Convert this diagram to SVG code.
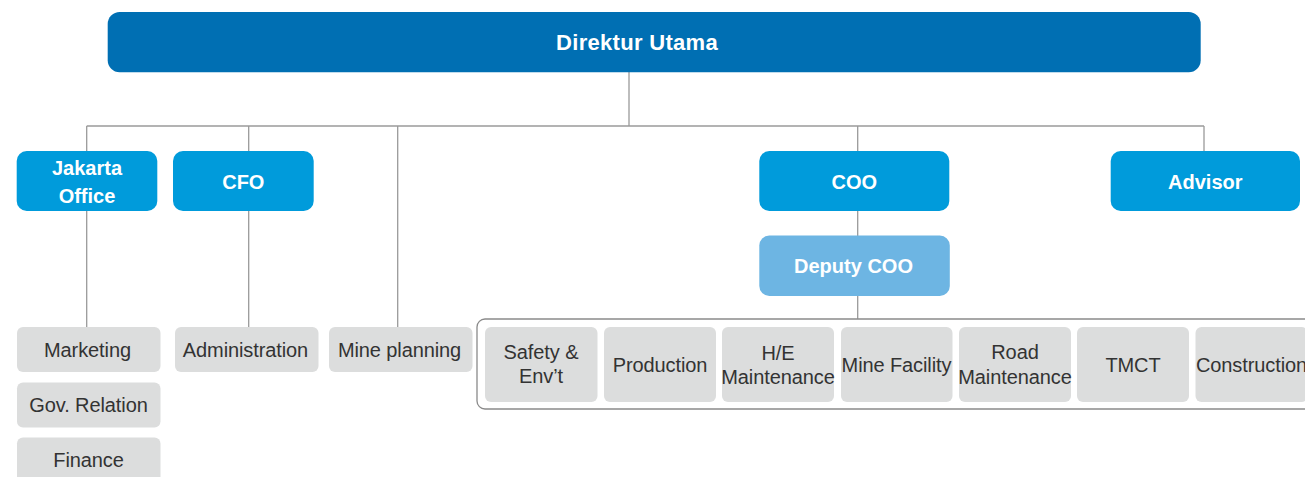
<svg xmlns="http://www.w3.org/2000/svg" width="1305" height="477" viewBox="0 0 1305 477">
<style>
.ln{stroke:#9a9a9a;stroke-width:1.3;fill:none}
.top{fill:#006fb3}
.blue{fill:#009bdb}
.dep{fill:#6db5e3}
.gray{fill:#dcdddd}
.grp{fill:none;stroke:#8a8a8a;stroke-width:1.3}
.tw{font-family:"Liberation Sans",Arial,sans-serif;font-weight:bold;font-size:20px;fill:#fff;text-anchor:middle}
.tt{font-family:"Liberation Sans",Arial,sans-serif;font-weight:bold;font-size:22px;fill:#fff;text-anchor:middle;letter-spacing:0.3px}
.tg{font-family:"Liberation Sans",Arial,sans-serif;font-size:20px;fill:#333;text-anchor:middle;letter-spacing:-0.1px}
</style>
<rect width="1305" height="477" fill="#fff"/>
<g id="connectors">
<path class="ln" d="M629 72V126M86.7 126H1204M86.7 126V327M248.7 126V327M397.7 126V327M857.7 126V151M857.7 211V236M857.7 296V319M1204 126V151"/>
</g>
<g id="group-box"><rect class="grp" x="477" y="319" width="850" height="90" rx="8"/></g>
<g id="direktur"><rect class="top" x="107.7" y="12" width="1093" height="60.3" rx="12"/><text class="tt" x="637" y="50">Direktur Utama</text></g>
<g id="jakarta"><rect class="blue" x="16.7" y="151" width="140.6" height="60" rx="10"/><text class="tw" x="87" y="175">Jakarta</text><text class="tw" x="87" y="203">Office</text></g>
<g id="cfo"><rect class="blue" x="173" y="151" width="140.7" height="60" rx="10"/><text class="tw" x="243.3" y="188.5">CFO</text></g>
<g id="coo"><rect class="blue" x="759.3" y="151" width="190" height="60" rx="10"/><text class="tw" x="854.3" y="188.5">COO</text></g>
<g id="advisor"><rect class="blue" x="1110.7" y="151" width="189.3" height="60" rx="10"/><text class="tw" x="1205.3" y="188.5">Advisor</text></g>
<g id="deputy"><rect class="dep" x="759.3" y="235.5" width="190.5" height="60.5" rx="10"/><text class="tw" x="853.5" y="273">Deputy COO</text></g>
<g id="marketing"><rect class="gray" x="17" y="327" width="143.5" height="45" rx="6"/><text class="tg" x="87.5" y="357">Marketing</text></g>
<g id="gov"><rect class="gray" x="17" y="382.5" width="143.5" height="45" rx="6"/><text class="tg" x="88.5" y="412">Gov. Relation</text></g>
<g id="finance"><rect class="gray" x="17" y="437.5" width="143.5" height="50" rx="6"/><text class="tg" x="88.5" y="467">Finance</text></g>
<g id="administration"><rect class="gray" x="175" y="327" width="143.5" height="45" rx="6"/><text class="tg" x="245.5" y="357">Administration</text></g>
<g id="mineplanning"><rect class="gray" x="329" y="327" width="143.5" height="45" rx="6"/><text class="tg" x="399.5" y="357">Mine planning</text></g>
<g id="safety"><rect class="gray" x="485" y="327" width="112.5" height="75" rx="6"/><text class="tg" x="541" y="359">Safety &amp;</text><text class="tg" x="541" y="383">Env’t</text></g>
<g id="production"><rect class="gray" x="604" y="327" width="112" height="75" rx="6"/><text class="tg" x="660" y="372">Production</text></g>
<g id="he"><rect class="gray" x="722" y="327" width="112" height="75" rx="6"/><text class="tg" x="778" y="360">H/E</text><text class="tg" x="778" y="384">Maintenance</text></g>
<g id="minefacility"><rect class="gray" x="841" y="327" width="111.5" height="75" rx="6"/><text class="tg" x="896.5" y="372">Mine Facility</text></g>
<g id="road"><rect class="gray" x="959" y="327" width="112" height="75" rx="6"/><text class="tg" x="1015" y="359">Road</text><text class="tg" x="1015" y="384">Maintenance</text></g>
<g id="tmct"><rect class="gray" x="1077" y="327" width="112" height="75" rx="6"/><text class="tg" x="1133" y="372">TMCT</text></g>
<g id="construction"><rect class="gray" x="1195.5" y="327" width="112" height="75" rx="6"/><text class="tg" x="1251.5" y="372">Construction</text></g>
</svg>
